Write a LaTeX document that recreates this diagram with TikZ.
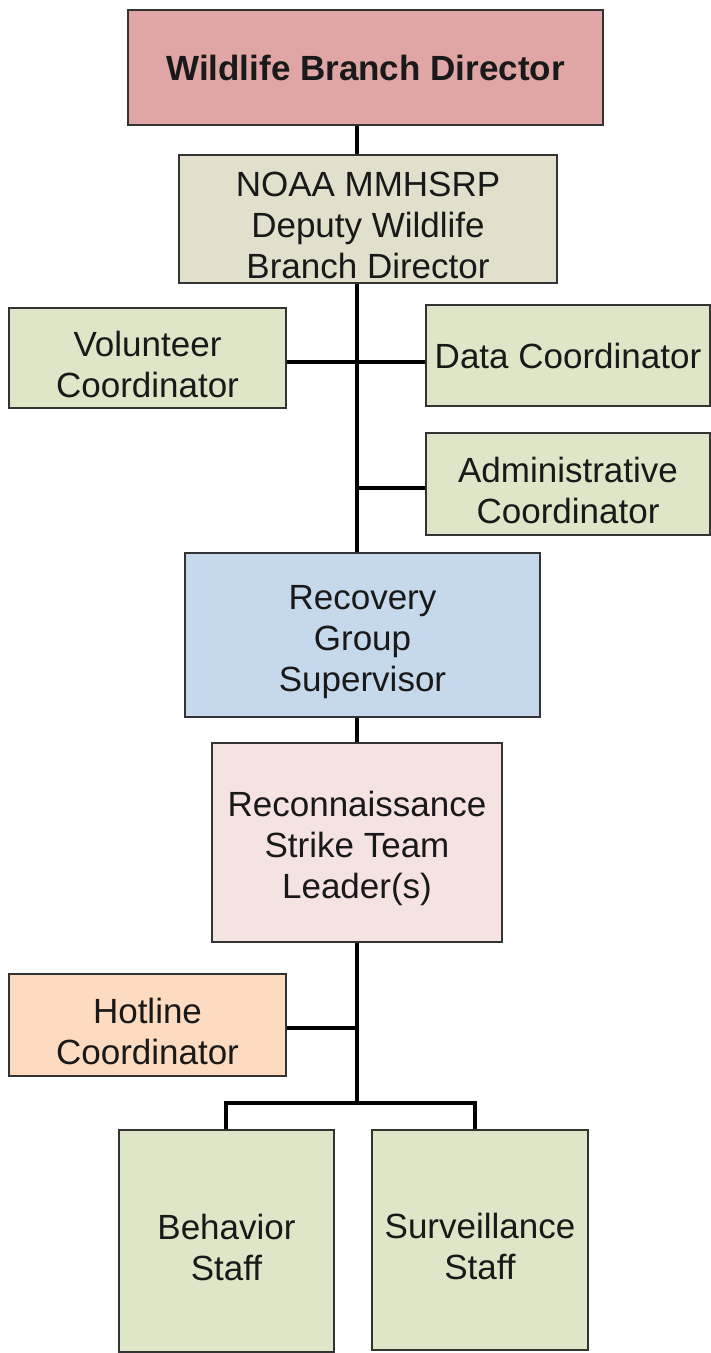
\documentclass[tikz,border=0pt]{standalone}
\usepackage{fontspec}
\setmainfont{Liberation Sans}
\definecolor{cTop}{HTML}{E0A5A5}
\definecolor{cDep}{HTML}{E2DFCD}
\definecolor{cGreen}{HTML}{DEE6C8}
\definecolor{cBlue}{HTML}{C6D8EB}
\definecolor{cPink}{HTML}{F5E3E2}
\definecolor{cPeach}{HTML}{FDDBC0}
\definecolor{cBorder}{HTML}{333333}
\newcommand{\lowerstrut}{\rule{0pt}{19pt}}
\begin{document}
\begin{tikzpicture}[x=0.5pt,y=-0.5pt,
  box/.style={draw=cBorder, line width=0.9pt, align=center, inner sep=0pt,
    font=\fontsize{17.5}{20.5}\selectfont, text=black!90},
  link/.style={line width=2pt, black}]
\useasboundingbox (0,0) rectangle (711,1353);
\fill[white] (0,0) rectangle (711,1353);
\node[box, fill=cTop, minimum width=237.5pt, minimum height=57.5pt, font=\fontsize{17.5}{20}\selectfont\bfseries] (top) at (365.5,67.5) {Wildlife Branch Director};
\node[box, fill=cDep, minimum width=189pt, minimum height=64pt] (deputy) at (368,219) {\lowerstrut NOAA MMHSRP\\Deputy Wildlife\\Branch Director};
\node[box, fill=cGreen, minimum width=138.5pt, minimum height=50pt] (vol) at (147.5,358) {\lowerstrut Volunteer\\Coordinator};
\node[box, fill=cGreen, minimum width=142pt, minimum height=50.5pt] (data) at (568,355.5) {Data Coordinator};
\node[box, fill=cGreen, minimum width=142pt, minimum height=51pt] (admin) at (568,484) {\lowerstrut Administrative\\Coordinator};
\node[box, fill=cBlue, minimum width=177.5pt, minimum height=82pt] (rec) at (362.5,635) {\lowerstrut Recovery\\Group\\Supervisor};
\node[box, fill=cPink, minimum width=145pt, minimum height=99.5pt] (recon) at (357,842.5) {\lowerstrut Reconnaissance\\Strike Team\\Leader(s)};
\node[box, fill=cPeach, minimum width=138.5pt, minimum height=51pt] (hot) at (147.5,1025) {\lowerstrut Hotline\\Coordinator};
\node[box, fill=cGreen, minimum width=107.5pt, minimum height=111pt] (beh) at (226.5,1241) {\lowerstrut Behavior\\Staff};
\node[box, fill=cGreen, minimum width=108pt, minimum height=110pt] (sur) at (480,1240) {\lowerstrut Surveillance\\Staff};
\coordinate (tx) at (357,0);
\coordinate (jv) at (357,362);
\coordinate (ja) at (357,488);
\coordinate (jh) at (357,1028);
\coordinate (split) at (357,1103);
\coordinate (bl) at (226,1103);
\coordinate (br) at (475,1103);
\draw[link] (top.south -| tx) -- (deputy.north -| tx);
\draw[link] (deputy.south -| tx) -- (rec.north -| tx);
\draw[link] (rec.south -| tx) -- (recon.north);
\draw[link] (recon.south) -- (split);
\draw[link] (vol.east |- jv) -- (data.west |- jv);
\draw[link] (ja) -- (admin.west |- ja);
\draw[link] (hot.east |- jh) -- (jh);
\draw[link] (beh.north -| bl) -- (bl) -- (br) -- (sur.north -| br);
\end{tikzpicture}
\end{document}
